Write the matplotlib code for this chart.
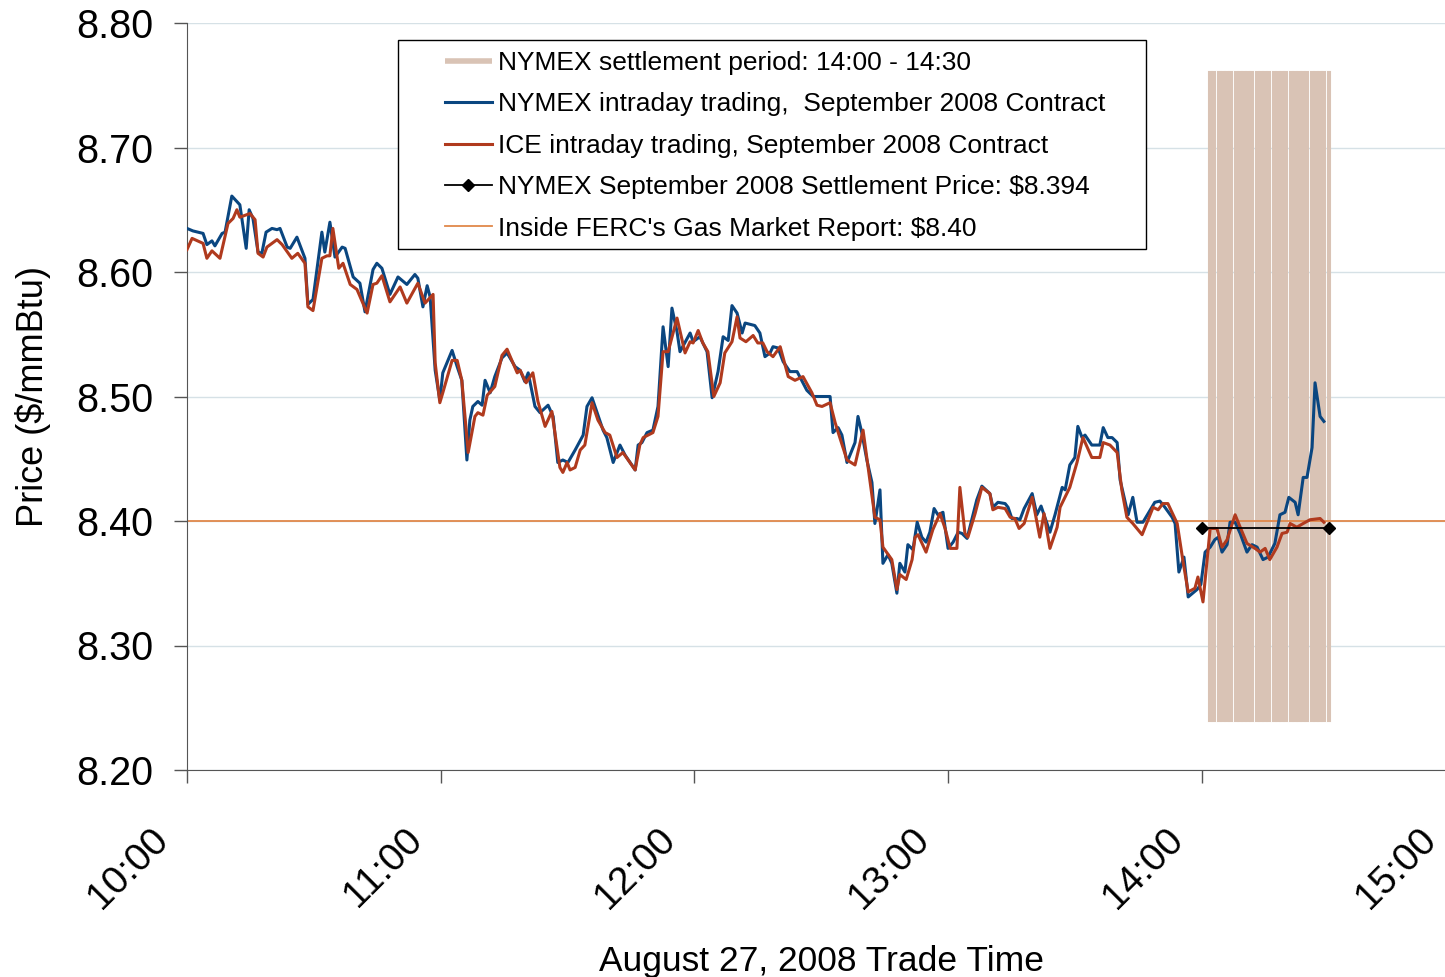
import matplotlib.pyplot as plt
import matplotlib.transforms as mtransforms
from matplotlib.patches import Rectangle

plt.rcParams['font.family'] = ['Liberation Sans', 'DejaVu Sans']

# minutes after 10:00 and price ($/mmBtu)
nymex_min = [0, 1.4, 3.8, 4.7, 5.9, 6.6, 8.3, 9.0, 10.6, 12.5, 14.0, 14.7, 15.6, 16.8, 17.7, 18.7,
             20.1, 21.3, 22.0, 23.7, 24.4, 26.0, 27.9, 28.6, 29.8, 31.9, 32.6, 33.8, 35.0, 36.7,
             37.4, 39.3, 40.9, 42.1, 44.0, 44.9, 46.1, 48.0, 49.9, 52.0, 53.9, 54.6, 55.8, 56.8,
             57.5, 58.7, 59.8, 60.5, 62.7, 63.9, 65.0, 66.2, 66.9, 67.6, 68.8, 69.8, 70.5, 71.7,
             72.8, 74.5, 75.7, 77.6, 78.8, 79.9, 80.7, 82.3, 83.5, 85.4, 86.6, 87.7, 88.9, 90.1,
             91.8, 93.7, 94.6, 95.8, 97.0, 98.4, 99.3, 100.8, 102.4, 103.6, 106.0, 106.7, 107.6,
             108.8, 110.2, 111.4, 112.6, 113.8, 114.7, 115.9, 116.6, 119.0, 119.7, 121.3, 123.0,
             124.2, 125.6, 126.8, 128.0, 128.9, 130.1, 131.3, 132.0, 134.3, 135.5, 136.7, 137.9,
             138.6, 139.8, 141.0, 142.6, 144.3, 146.6, 148.1, 150.4, 152.1, 152.8, 154.0, 154.9,
             156.1, 157.3, 158.0, 158.7, 159.6, 160.8, 162.0, 162.7, 163.9, 164.6, 165.8, 166.7,
             167.9, 168.6, 169.8, 170.5, 171.7, 172.7, 173.8, 174.8, 175.7, 176.7, 177.6, 178.8,
             180.0, 181.2, 182.4, 183.3, 184.5, 186.8, 188.0, 189.9, 190.6, 191.8, 193.5, 194.2,
             195.1, 196.3, 197.0, 198.0, 199.9, 201.0, 202.0, 202.9, 204.1, 205.3, 207.0, 207.7,
             208.8, 210.0, 210.7, 211.7, 212.4, 214.0, 215.9, 216.7, 217.8, 218.8, 220.0, 220.7,
             222.6, 223.7, 224.7, 226.1, 228.9, 230.1, 231.3, 233.0, 233.7, 234.6, 235.8, 236.8,
             238.9, 239.8, 240.8, 242.0, 243.1, 243.9, 244.8, 246.0, 246.7, 247.9, 249.1, 250.7,
             251.9, 253.1, 254.5, 255.7, 257.3, 258.5, 259.7, 260.6, 262.1, 262.8, 264.0, 264.9,
             266.1, 266.8, 268.0, 268.9]
nymex_price = [8.635, 8.633, 8.631, 8.622, 8.625, 8.621, 8.631, 8.632, 8.661, 8.654, 8.619, 8.650,
               8.643, 8.616, 8.615, 8.632, 8.635, 8.634, 8.635, 8.620, 8.619, 8.628, 8.611, 8.574,
               8.578, 8.632, 8.616, 8.640, 8.612, 8.620, 8.619, 8.596, 8.591, 8.568, 8.602, 8.607,
               8.603, 8.582, 8.596, 8.590, 8.598, 8.595, 8.572, 8.589, 8.580, 8.521, 8.497, 8.519,
               8.537, 8.524, 8.513, 8.449, 8.481, 8.492, 8.496, 8.493, 8.513, 8.503, 8.516, 8.531,
               8.535, 8.524, 8.521, 8.512, 8.519, 8.492, 8.487, 8.493, 8.484, 8.447, 8.449, 8.447,
               8.457, 8.469, 8.492, 8.499, 8.487, 8.473, 8.467, 8.447, 8.461, 8.453, 8.441, 8.461,
               8.463, 8.471, 8.473, 8.492, 8.556, 8.524, 8.571, 8.552, 8.536, 8.551, 8.544, 8.548,
               8.536, 8.499, 8.520, 8.548, 8.545, 8.573, 8.567, 8.551, 8.559, 8.557, 8.551, 8.532,
               8.535, 8.540, 8.539, 8.528, 8.520, 8.520, 8.505, 8.500, 8.500, 8.500, 8.471, 8.475,
               8.469, 8.447, 8.457, 8.463, 8.484, 8.471, 8.449, 8.431, 8.398, 8.425, 8.366, 8.373,
               8.366, 8.342, 8.366, 8.359, 8.381, 8.377, 8.399, 8.387, 8.383, 8.391, 8.410, 8.405,
               8.407, 8.378, 8.383, 8.391, 8.390, 8.386, 8.417, 8.428, 8.422, 8.411, 8.415, 8.414,
               8.411, 8.402, 8.402, 8.401, 8.410, 8.422, 8.405, 8.412, 8.403, 8.391, 8.405, 8.427,
               8.425, 8.445, 8.451, 8.476, 8.467, 8.469, 8.461, 8.461, 8.475, 8.467, 8.467, 8.463,
               8.433, 8.405, 8.419, 8.399, 8.399, 8.415, 8.416, 8.411, 8.403, 8.398, 8.359, 8.371,
               8.339, 8.345, 8.349, 8.375, 8.379, 8.385, 8.387, 8.375, 8.381, 8.399, 8.399, 8.390,
               8.375, 8.381, 8.379, 8.369, 8.371, 8.382, 8.405, 8.407, 8.419, 8.415, 8.405, 8.435,
               8.435, 8.459, 8.511, 8.484, 8.480]

ice_min = [0, 1.2, 3.8, 4.7, 5.9, 7.8, 9.7, 10.9, 11.8, 12.5, 14.9, 16.1, 16.8, 18.0, 18.9, 21.3,
           22.5, 24.8, 26.2, 27.9, 28.6, 29.8, 31.9, 33.1, 33.8, 34.5, 35.9, 36.9, 38.6, 40.2, 42.6,
           44.0, 44.9, 46.1, 48.0, 50.4, 52.0, 54.6, 56.3, 58.2, 58.7, 59.8, 60.5, 62.7, 63.9, 65.0,
           66.5, 68.1, 68.8, 70.0, 71.0, 72.8, 74.5, 75.7, 78.1, 78.8, 80.2, 81.8, 83.0, 84.7, 86.3,
           88.2, 88.9, 89.9, 90.6, 91.8, 93.0, 94.1, 95.8, 97.2, 98.9, 100.0, 101.7, 103.1, 106.0,
           107.1, 107.9, 110.2, 111.4, 112.6, 113.8, 115.9, 117.8, 119.0, 119.7, 120.9, 122.0,
           123.2, 124.6, 126.1, 127.2, 128.9, 130.1, 130.8, 132.2, 133.9, 135.0, 136.2, 137.2,
           138.6, 140.3, 142.2, 143.8, 145.7, 147.8, 149.0, 150.2, 152.1, 153.3, 154.4, 156.1,
           158.0, 159.9, 161.1, 162.7, 163.9, 164.6, 166.7, 167.9, 168.6, 170.1, 171.5, 172.2,
           172.9, 174.8, 176.4, 178.1, 179.3, 180.5, 182.1, 182.8, 184.0, 184.7, 186.4, 188.0,
           189.9, 190.6, 191.8, 193.5, 194.7, 195.8, 196.8, 198.0, 199.9, 201.7, 202.7, 204.1,
           205.8, 206.5, 208.8, 210.5, 211.9, 214.0, 215.9, 216.7, 218.3, 220.0, 221.1, 222.3,
           223.7, 225.9, 228.5, 229.7, 230.8, 232.0, 234.2, 235.6, 236.8, 238.4, 239.1, 240.3,
           242.0, 243.6, 244.8, 246.0, 247.9, 249.1, 250.7, 252.6, 253.8, 255.0, 256.1, 257.8,
           259.0, 260.2, 260.9, 262.5, 264.0, 265.6, 268.0, 268.9]
ice_price = [8.618, 8.627, 8.623, 8.611, 8.617, 8.611, 8.639, 8.643, 8.650, 8.644, 8.647, 8.642,
             8.615, 8.612, 8.620, 8.626, 8.622, 8.611, 8.615, 8.607, 8.572, 8.569, 8.611, 8.613,
             8.613, 8.635, 8.603, 8.607, 8.590, 8.586, 8.567, 8.590, 8.591, 8.597, 8.576, 8.588,
             8.575, 8.591, 8.575, 8.582, 8.527, 8.495, 8.503, 8.529, 8.529, 8.513, 8.455, 8.484,
             8.487, 8.485, 8.501, 8.508, 8.533, 8.538, 8.519, 8.521, 8.511, 8.519, 8.496, 8.476,
             8.488, 8.443, 8.439, 8.447, 8.441, 8.443, 8.457, 8.461, 8.495, 8.481, 8.471, 8.469,
             8.451, 8.455, 8.441, 8.461, 8.467, 8.471, 8.484, 8.536, 8.536, 8.563, 8.535, 8.544,
             8.543, 8.553, 8.543, 8.536, 8.500, 8.511, 8.535, 8.544, 8.564, 8.547, 8.544, 8.549,
             8.543, 8.543, 8.536, 8.532, 8.540, 8.516, 8.513, 8.516, 8.503, 8.493, 8.492, 8.495,
             8.479, 8.467, 8.449, 8.445, 8.473, 8.443, 8.403, 8.401, 8.379, 8.369, 8.345, 8.357,
             8.353, 8.369, 8.387, 8.389, 8.375, 8.393, 8.406, 8.394, 8.378, 8.378, 8.427, 8.390,
             8.387, 8.406, 8.427, 8.422, 8.409, 8.411, 8.410, 8.403, 8.402, 8.394, 8.398, 8.419,
             8.387, 8.406, 8.378, 8.395, 8.411, 8.427, 8.447, 8.467, 8.451, 8.451, 8.463, 8.461,
             8.455, 8.425, 8.403, 8.398, 8.389, 8.411, 8.409, 8.414, 8.414, 8.398, 8.367, 8.343,
             8.346, 8.355, 8.335, 8.394, 8.394, 8.379, 8.385, 8.405, 8.395, 8.382, 8.378, 8.375,
             8.378, 8.369, 8.379, 8.390, 8.391, 8.398, 8.395, 8.398, 8.401, 8.402, 8.399]

# settlement period 14:00 - 14:30, drawn as one bar per minute
band_min = [242, 243, 244, 245, 246, 247, 248, 249, 250, 251, 252, 253, 254, 255, 256,
            257, 258, 259, 260, 261, 262, 263, 264, 265, 266, 267, 268, 269, 270]
band_low = 8.24
band_high = 8.76

settle_min = [240, 270]
settle_price = [8.394, 8.394]
ferc_price = 8.40

time_ticks = [0, 60, 120, 180, 240, 300]
time_labels = ["10:00", "11:00", "12:00", "13:00", "14:00", "15:00"]
price_ticks = [8.20, 8.30, 8.40, 8.50, 8.60, 8.70, 8.80]

fig = plt.figure(figsize=(14.45, 9.77), dpi=100)
ax = fig.add_axes([187 / 1445, 1 - 770 / 977, 1268.4 / 1445, 747 / 977])

band = ax.vlines(band_min, band_low, band_high, color="#d9c3b5", lw=2.95, zorder=1,
                 label="NYMEX settlement period: 14:00 - 14:30")
band.set_capstyle("projecting")
ax.plot(nymex_min, nymex_price, color="#0a4680", lw=2.2, zorder=3,
        label="NYMEX intraday trading,  September 2008 Contract")
ax.plot(ice_min, ice_price, color="#b03a1e", lw=2.2, zorder=4,
        label="ICE intraday trading, September 2008 Contract")
ax.plot(settle_min, settle_price, color="black", lw=1.3, marker="D", markersize=6, zorder=5,
        label="NYMEX September 2008 Settlement Price: $8.394")
ax.axhline(ferc_price, color="#e0884a", lw=1.3, zorder=2,
           label="Inside FERC's Gas Market Report: $8.40")

ax.set_xlim(0, 300)
ax.set_ylim(8.20, 8.80)
ax.set_yticks(price_ticks)
ax.set_yticklabels(["%.2f" % p for p in price_ticks])
ax.set_xticks(time_ticks)
ax.set_xticklabels(time_labels, rotation=45, ha="right", rotation_mode="anchor")
ax.grid(axis="y", color="#d6e1e6", lw=1)
ax.set_axisbelow(True)

for s in ["top", "right"]:
    ax.spines[s].set_visible(False)
for s in ["left", "bottom"]:
    ax.spines[s].set_color("#555555")

ax.tick_params(axis="y", length=9.5, width=1, color="#555555", labelsize=28.5, pad=15)
ax.tick_params(axis="x", length=9.5, width=1, color="#555555", labelsize=28, pad=18)

# excel puts the rotated labels a bit left and lower
offset = mtransforms.ScaledTranslation(-0.37, -0.13, fig.dpi_scale_trans)
for lab in ax.get_xticklabels():
    lab.set_transform(lab.get_transform() + offset)

ax.set_ylabel("Price ($/mmBtu)", fontsize=26, labelpad=18)
ax.set_xlabel("August 27, 2008 Trade Time", fontsize=25.5, labelpad=21)

# legend box drawn by hand, excel leaves wide side margins
box = Rectangle(((398 - 187) / 1268.4, 1 - (249 - 23) / 747), 748 / 1268.4, 209 / 747,
                transform=ax.transAxes, facecolor="white", edgecolor="black", lw=1, zorder=6)
ax.add_patch(box)
leg = ax.legend(loc="upper left", bbox_to_anchor=((445 - 187) / 1268.4, 1 - (51 - 23) / 747),
                fontsize=19, frameon=False, handlelength=1.78, handletextpad=0.23,
                labelspacing=0.66, borderpad=0, borderaxespad=0)
leg.set_zorder(7)
leg.legend_handles[0].set_linewidth(4)

plt.savefig("out.png", dpi=100)
